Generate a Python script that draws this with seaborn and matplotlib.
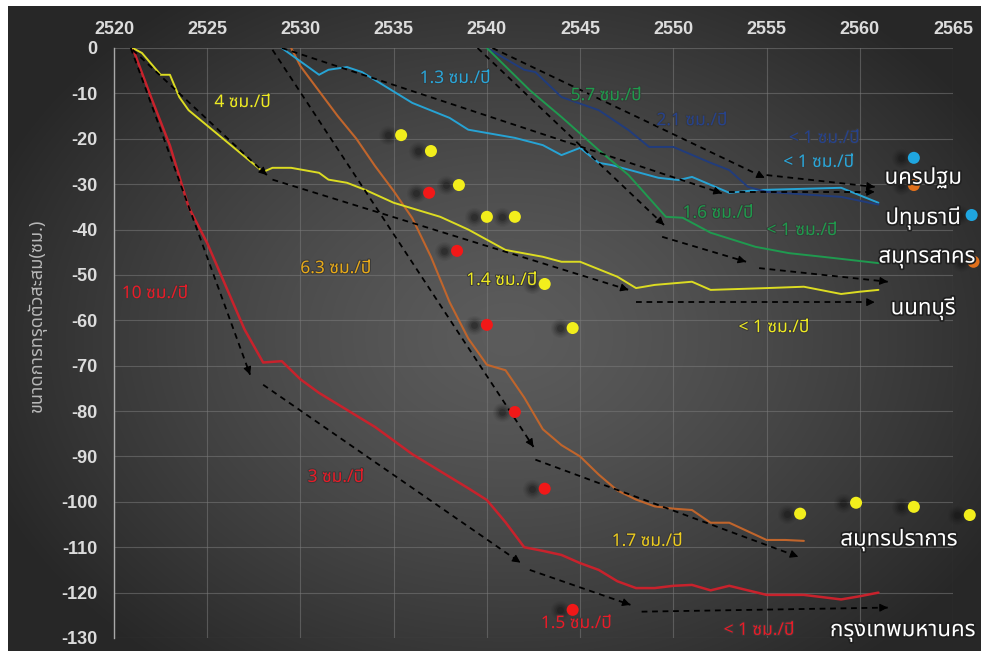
import numpy as np
import pandas as pd
import matplotlib
matplotlib.use("Agg")
import matplotlib.pyplot as plt
import matplotlib.patheffects as pe
from matplotlib import font_manager
from matplotlib.ft2font import FT2Font
from matplotlib.transforms import offset_copy
import seaborn as sns

# ---------------------------------------------------------------- data
red_years = list(range(2521, 2562))
red_vals = [0, -11, -21.5, -35, -43, -52.5, -62, -69.3, -69, -73, -76, -78.5,
            -81, -83.5, -86.5, -89.5, -92, -94.5, -97, -99.6, -104.5, -110,
            -110.8, -111.7, -113.5, -115, -117.5, -119, -119, -118.5, -118.3,
            -119.5, -118.5, -119.5, -120.5, -120.5, -120.5, -121, -121.5,
            -120.8, -120]

orange_years = [2529.5, 2530, 2531, 2532, 2533, 2534, 2535, 2536, 2537, 2538,
                2539, 2540, 2541, 2542, 2543, 2544, 2545, 2546, 2547, 2548,
                2549, 2550, 2551, 2552, 2553, 2554, 2555, 2556, 2557]
orange_vals = [0, -4, -9.5, -15, -20, -26, -31.5, -37.5, -46, -56, -64, -69.8,
               -71, -77, -84, -87.5, -90, -94, -97.5, -99.5, -101, -101.5,
               -101.8, -104.6, -104.6, -106.5, -108.4, -108.4, -108.6]

yellow_years = [2521, 2521.5, 2522.5, 2523, 2523.5, 2524, 2528, 2528.5, 2529.5,
                2531, 2531.5, 2532.5, 2533.5, 2535, 2537.5, 2539, 2541, 2543,
                2544, 2545, 2547, 2548, 2549, 2551, 2552, 2555, 2557, 2559,
                2560, 2561]
yellow_vals = [0, -1.1, -5.9, -5.9, -10.8, -13.7, -27.3, -26.4, -26.4, -27.5,
               -29, -29.7, -31.3, -34.1, -37.2, -40, -44.5, -46, -47.1, -47.1,
               -50.4, -52.9, -52.2, -51.5, -53.3, -52.9, -52.6, -54.2, -53.7,
               -53.3]

cyan_years = [2529, 2531, 2531.5, 2532.5, 2533.3, 2536, 2538, 2539, 2541.5,
              2543, 2544, 2545, 2546, 2546.7, 2549.2, 2550.3, 2551, 2553,
              2554.5, 2559, 2561]
cyan_vals = [0, -5.9, -4.8, -4.2, -5.3, -12.1, -15.4, -18, -19.8, -21.4,
             -23.6, -22, -25.3, -25.8, -28.6, -29.1, -28.4, -31.9, -31.3,
             -30.8, -34.1]

navy_years = [2540, 2542, 2542.6, 2544, 2546, 2547.6, 2548.7, 2550, 2552,
              2553, 2554, 2555, 2559, 2561]
navy_vals = [0, -4.8, -5.3, -10.8, -13.7, -18.1, -21.8, -21.8, -25.3, -26.9,
             -30.6, -31.7, -32.8, -34.5]

green_years = [2540, 2542.3, 2544, 2546, 2547.6, 2549.6, 2550.5, 2552, 2554.4,
               2556.2, 2558, 2561]
green_vals = [0, -9.3, -15.2, -22.5, -28, -37.2, -37.4, -40.7, -43.8, -45.2,
              -46, -47.4]

# trend arrows: (x0, y0, x1, y1)
arrows = [
    (2520.9, 0, 2527.3, -72), (2528, -74.2, 2541.8, -113.4),
    (2542.3, -115, 2547.7, -122.7), (2548.3, -124.2, 2561.5, -123.3),
    (2521, -0.4, 2528.2, -28), (2528.5, -29, 2547.6, -53.3),
    (2548, -56, 2560.8, -56),
    (2528.5, -0.4, 2542.5, -87.9), (2542.6, -90.7, 2556.7, -112.1),
    (2529, 0, 2552.6, -32), (2553, -31.7, 2560.8, -31.7),
    (2540.3, 0, 2554.9, -28.6), (2555, -28, 2560.8, -30.6),
    (2539.5, 0, 2549.5, -39), (2549.4, -41.6, 2553.9, -47.1),
    (2554.6, -48.5, 2561.5, -51.5),
]

# rate annotations
rate_texts = ["4 ซม./ปี", "1.3 ซม./ปี", "5.7 ซม./ปี", "2.1 ซม./ปี",
              "< 1 ซม./ปี", "< 1 ซม./ปี", "1.6 ซม./ปี", "< 1 ซม./ปี",
              "6.3 ซม./ปี", "10 ซม./ปี", "1.4 ซม./ปี", "< 1 ซม./ปี",
              "3 ซม./ปี", "1.7 ซม./ปี", "1.5 ซม./ปี", "< 1 ซม./ปี"]
rate_x = [2526.9, 2538.3, 2546.4, 2551.0, 2558.1, 2557.8, 2552.4, 2556.9,
          2531.9, 2522.2, 2540.8, 2555.4, 2531.9, 2548.6, 2544.8, 2554.6]
rate_y = [-11.9, -6.6, -10.4, -15.9, -19.8, -25.1, -36.3, -40.1,
          -48.5, -54.0, -51.1, -61.5, -94.5, -108.6, -126.7, -128.2]
rate_colors = ["#eeea22", "#2aa6d9", "#1f9a4c", "#26428c", "#26428c",
               "#2aa6d9", "#1f9a4c", "#1f9a4c", "#e8aa18", "#e81c28",
               "#eeea22", "#eeea22", "#e81c28", "#eccb1e", "#e81c28",
               "#e81c28"]

provinces = ["นครปฐม", "ปทุมธานี", "สมุทรสาคร", "นนทบุรี", "สมุทรปราการ",
             "กรุงเทพมหานคร"]
prov_x = [2563.4, 2563.4, 2563.6, 2563.4, 2562.1, 2562.3]
prov_y = [-28.6, -37.4, -46.3, -57.3, -108.4, -128.6]

dot_x = [2535.4, 2537.0, 2538.5, 2540.0, 2541.5, 2543.1, 2544.6, 2556.8,
         2559.8, 2562.9, 2565.9,
         2536.9, 2538.4, 2540.0, 2541.5, 2543.1, 2544.6,
         2562.9, 2566.0, 2562.9, 2566.1]
dot_y = [-19.2, -22.7, -30.2, -37.2, -37.2, -52.0, -61.7, -102.6,
         -100.2, -101.1, -102.9,
         -31.9, -44.7, -61.0, -80.2, -97.1, -123.8,
         -24.2, -36.8, -30.2, -47.1]
dot_kind = ["y"] * 11 + ["r"] * 6 + ["c", "c", "o", "o"]

x_ticks = list(range(2520, 2566, 5))
y_ticks = list(range(-130, 1, 10))
y_title = "ขนาดการทรุดตัวสะสม(ซม.)"


# ---------------------------------------------------------------- fonts
def thai_family():
    names = []
    for f in font_manager.fontManager.ttflist:
        try:
            cmap = FT2Font(f.fname).get_charmap()
        except Exception:
            continue
        if 0x0E01 in cmap and f.name not in names:
            names.append(f.name)
    for pref in ["Tahoma", "Noto Sans Thai", "Noto Sans Thai UI",
                 "Noto Serif Thai", "Loma", "Garuda", "Sarabun", "Kinnari"]:
        if pref in names:
            return pref
    return names[0] if names else "DejaVu Sans"


sns.set_theme(style="dark")
thai = thai_family()
plt.rcParams["font.family"] = [thai, "DejaVu Sans"]
num_font = "Liberation Sans"

# ---------------------------------------------------------------- figure
W, H = 981, 651
fig = plt.figure(figsize=(W / 100, H / 100), dpi=100, facecolor="white")

# dark panel with radial shading
bg = fig.add_axes([8 / W, 0, (W - 8) / W, (H - 6) / H])
bg.set_axis_off()
yy, xx = np.mgrid[0:H - 6, 0:W - 8]
r = np.sqrt(((xx - 500) / 560.0) ** 2 + ((yy - 330) / 420.0) ** 2)
t = np.clip(r, 0, 1) ** 1.3
c0 = np.array([0x5c, 0x5c, 0x5c]) / 255
c1 = np.array([0x27, 0x27, 0x27]) / 255
img = c0[None, None, :] * (1 - t[..., None]) + c1[None, None, :] * t[..., None]
bg.imshow(img, aspect="auto", interpolation="bilinear")

ax = fig.add_axes([114 / W, 1 - 638 / H, (953 - 114) / W, (638 - 48) / H])
ax.set_facecolor("none")

series = [
    (red_years, red_vals, "#c8222c", 1.8),
    (orange_years, orange_vals, "#c0652c", 1.5),
    (yellow_years, yellow_vals, "#dcdc22", 1.4),
    (cyan_years, cyan_vals, "#27a3d4", 1.4),
    (navy_years, navy_vals, "#213c7c", 1.4),
    (green_years, green_vals, "#1f9a4f", 1.4),
]
for yrs, vals, col, lw in series:
    df = pd.DataFrame({"year": yrs, "depth": vals})
    sns.lineplot(data=df, x="year", y="depth", ax=ax, color=col, lw=lw,
                 sort=False, estimator=None, zorder=3)

# dashed trend arrows
for x0, y0, x1, y1 in arrows:
    ax.plot([x0, x1], [y0, y1], color="black", lw=1.3,
            dashes=(3.2, 2.6), zorder=4)
    ax.annotate("", xy=(x1, y1),
                xytext=(x1 - 0.02 * (x1 - x0), y1 - 0.02 * (y1 - y0)),
                arrowprops=dict(arrowstyle="-|>", color="black", lw=0.8,
                                mutation_scale=12, shrinkA=0, shrinkB=0),
                zorder=5)

# marker dots with soft shadows
dots = pd.DataFrame({"x": dot_x, "y": dot_y, "kind": dot_kind})
shadow_tr = offset_copy(ax.transData, fig=fig, x=-13, y=0, units="dots")
for s, a in [(190, 0.06), (140, 0.08), (95, 0.12), (55, 0.18), (25, 0.25)]:
    ax.scatter(dots["x"], dots["y"], s=s, color="#111111", alpha=a,
               linewidths=0, transform=shadow_tr, clip_on=False, zorder=5)
palette = {"y": "#f2ee1c", "r": "#f21818", "c": "#1fa6e0", "o": "#e0701c"}
sns.scatterplot(data=dots, x="x", y="y", hue="kind", palette=palette, s=75,
                linewidth=0, ax=ax, legend=False, clip_on=False, zorder=6)

# rate labels
for txt, x, y, col in zip(rate_texts, rate_x, rate_y, rate_colors):
    ax.text(x, y, txt, color=col, fontsize=12.5, fontweight="bold",
            ha="center", va="center", zorder=7,
            path_effects=[pe.withStroke(linewidth=1.5, foreground="#3a3a3a")])

# province names
for txt, x, y in zip(provinces, prov_x, prov_y):
    ax.text(x, y, txt, color="white", fontsize=16, ha="center", va="center",
            zorder=8, clip_on=False,
            path_effects=[pe.withStroke(linewidth=2.5, foreground="#202020")])

# axes styling
ax.set_xlim(2520, 2565)
ax.set_ylim(-130, 0)
ax.set_xticks(x_ticks)
ax.set_yticks(y_ticks)
ax.xaxis.tick_top()
ax.set_xticklabels([str(v) for v in x_ticks], family=num_font)
ax.set_yticklabels([str(v) for v in y_ticks], family=num_font)
ax.tick_params(axis="x", length=0, pad=7, labelsize=13, labelcolor="#dcdcdc")
ax.tick_params(axis="y", length=0, pad=12, labelsize=13, labelcolor="#dcdcdc")
for lab in ax.get_xticklabels() + ax.get_yticklabels():
    lab.set_fontweight("bold")
ax.grid(True, color="#7a7a7a", lw=0.8, alpha=0.55)
ax.set_xlabel("")
ax.set_ylabel("")
for side in ["top", "right", "bottom"]:
    ax.spines[side].set_visible(False)
ax.spines["left"].set_color("#a8a8a8")
ax.spines["left"].set_linewidth(1.0)

fig.text(37 / W, 1 - 316 / H, y_title, rotation=90, color="#b8b8b8",
         fontsize=13, fontweight="bold", ha="center", va="center")

fig.savefig("out.png", dpi=100, facecolor=fig.get_facecolor())
